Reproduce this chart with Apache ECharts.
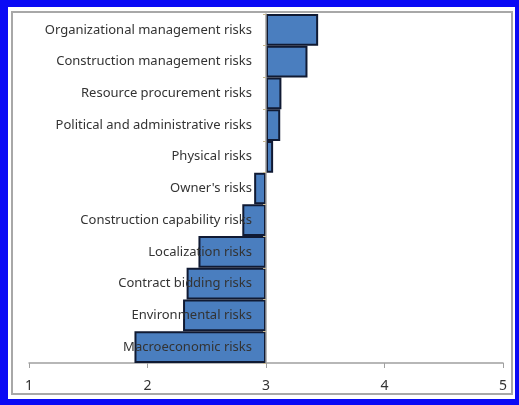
<!DOCTYPE html>
<html>
<head>
<meta charset="utf-8">
<script src="https://cdn.jsdelivr.net/npm/echarts@6/dist/echarts.min.js"></script>
<style>
html,body{margin:0;padding:0;width:519px;height:405px;overflow:hidden;background:#0a0af5;}
#white{position:absolute;left:8px;top:7px;width:507px;height:392px;background:#fff;}
#frame{position:absolute;left:11px;top:11px;width:502px;height:384px;border:2px solid #a8a8a8;box-sizing:border-box;}
#chart{position:absolute;left:0;top:0;width:519px;height:405px;}
</style>
</head>
<body>
<div id="white"></div>
<div id="frame"></div>
<div id="chart"></div>
<script>
const categories = [
  "Organizational management risks",
  "Construction management risks",
  "Resource procurement risks",
  "Political and administrative risks",
  "Physical risks",
  "Owner's risks",
  "Construction capability risks",
  "Localization risks",
  "Contract bidding risks",
  "Environmental risks",
  "Macroeconomic risks"
];
const values = [3.44, 3.35, 3.13, 3.12, 3.06, 2.90, 2.80, 2.43, 2.33, 2.30, 1.89];
const baseline = 3;
const xTicks = [1, 2, 3, 4, 5];

const baseData = values.map(v => Math.min(v, baseline));
const deltaData = values.map(v => Math.abs(v - baseline));

const chart = echarts.init(document.getElementById('chart'), null, {renderer: 'canvas'});
const gridLeft = 29, gridRight = 16;
const plotW = 519 - gridLeft - gridRight;
const axisOffset = -plotW * (baseline - xTicks[0]) / (xTicks[xTicks.length-1] - xTicks[0]);

chart.setOption({
  animation: false,
  backgroundColor: 'transparent',
  textStyle: {fontFamily: 'Noto Sans'},
  grid: {left: gridLeft, right: gridRight, top: 14, bottom: 42},
  xAxis: {
    type: 'value', min: 1, max: 5, interval: 1,
    axisLine: {show: true, lineStyle: {color: '#a0a0a0', width: 1.5}},
    axisTick: {show: true, length: 5, lineStyle: {color: '#a0a0a0'}},
    axisLabel: {color: '#333', fontSize: 14, margin: 16, formatter: v => String(v)},
    splitLine: {show: false}
  },
  yAxis: {
    type: 'category', data: categories, inverse: true,
    offset: axisOffset,
    z: 10,
    axisLine: {show: true, lineStyle: {color: '#a0a0a0', width: 1.5}},
    axisTick: {show: true, length: 3, lineStyle: {color: '#c8b890'}},
    axisLabel: {color: '#333', fontSize: 13, margin: 14}
  },
  series: [
    {
      type: 'bar', stack: 'r', data: baseData, barCategoryGap: '0%',
      itemStyle: {color: 'rgba(0,0,0,0)'}, silent: true
    },
    {
      type: 'bar', stack: 'r', data: deltaData, barCategoryGap: '0%',
      itemStyle: {color: '#4a7ebf', borderColor: '#101a33', borderWidth: 2}
    }
  ]
});
</script>
</body>
</html>
